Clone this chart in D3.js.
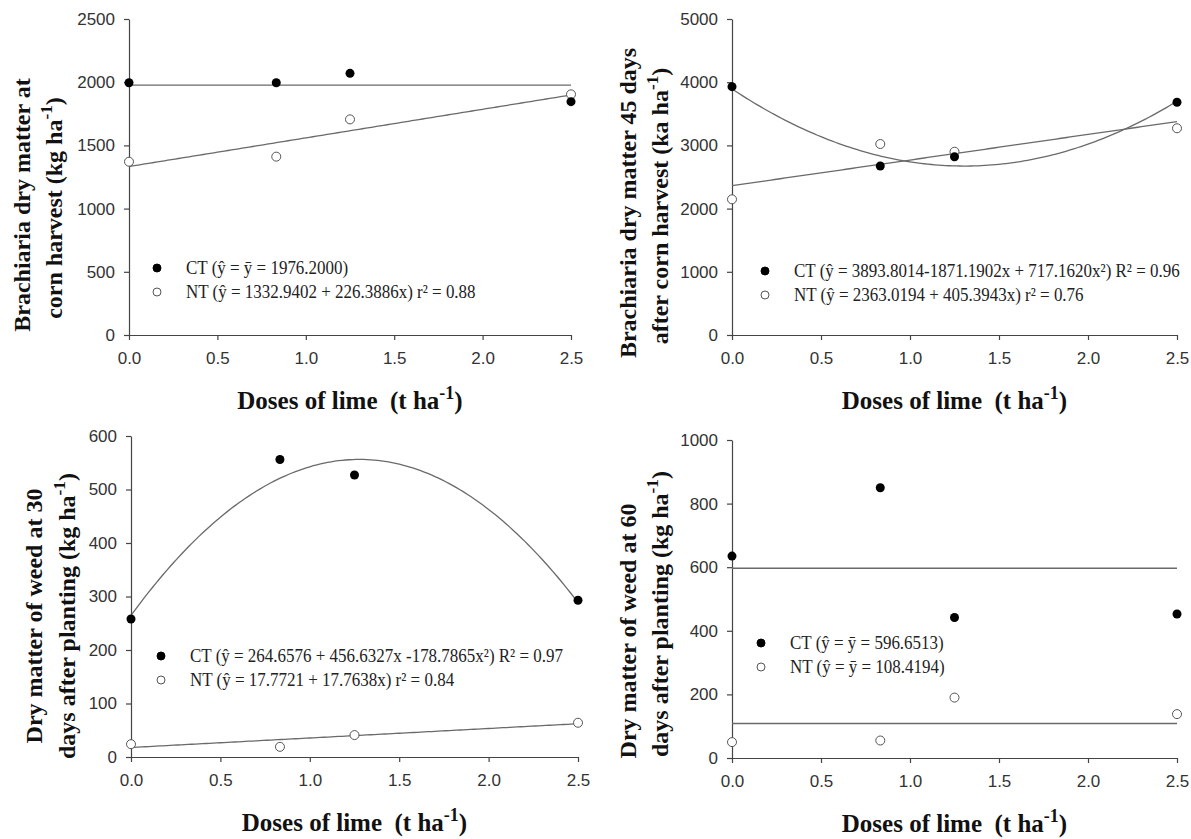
<!DOCTYPE html>
<html>
<head>
<meta charset="utf-8">
<script src="https://cdn.jsdelivr.net/npm/d3@7"></script>
<style>
  body { margin: 0; background: #fff; }
  .tick text { font-family: "Liberation Sans", Arial, sans-serif; font-size: 17px; fill: #333; }
  .domain, .tick line { stroke: #444; stroke-width: 1.2; }
</style>
</head>
<body>
<svg id="fig" width="1191" height="839"></svg>
<script>
// lime doses (t ha-1)
let doses = [0, 0.833, 1.25, 2.5]
let xTicks = [0, 0.5, 1.0, 1.5, 2.0, 2.5]

// brachiaria dry matter at corn harvest
let ctHarvest = [1996, 1996, 2070, 1846]
let ntHarvest = [1371, 1411, 1706, 1904]
// brachiaria dry matter 45 days after corn harvest
let ct45days = [3929, 2674, 2821, 3682]
let nt45days = [2147, 3022, 2900, 3271]
// weed dry matter 30 days after planting
let ctWeed30 = [258, 556, 527, 293]
let ntWeed30 = [24, 19, 41, 64]
// weed dry matter 60 days after planting
let ctWeed60 = [635, 850, 442, 453]
let ntWeed60 = [50, 55, 190, 138]

// regression coefficients  y = a + b*x + c*x^2
let ctHarvestFit = [1976.2, 0, 0]
let ntHarvestFit = [1332.9402, 226.3886, 0]
let ct45Fit = [3893.8014, -1871.1902, 717.1620]
let nt45Fit = [2363.0194, 405.3943, 0]
let ctWeed30Fit = [264.6576, 456.6327, -178.7865]
let ntWeed30Fit = [17.7721, 17.7638, 0]
let ctWeed60Fit = [596.6513, 0, 0]
let ntWeed60Fit = [108.4194, 0, 0]

let legendHarvest = ['CT (ŷ = ȳ = 1976.2000)', 'NT (ŷ = 1332.9402 + 226.3886x) r² = 0.88']
let legend45 = ['CT (ŷ = 3893.8014-1871.1902x + 717.1620x²) R² = 0.96', 'NT (ŷ = 2363.0194 + 405.3943x) r² = 0.76']
let legendWeed30 = ['CT (ŷ = 264.6576 + 456.6327x -178.7865x²) R² = 0.97', 'NT (ŷ = 17.7721 + 17.7638x) r² = 0.84']
let legendWeed60 = ['CT (ŷ = ȳ = 596.6513)', 'NT (ŷ = ȳ = 108.4194)']

let panels = [
  { ct: ctHarvest, nt: ntHarvest, ctFit: ctHarvestFit, ntFit: ntHarvestFit, legend: legendHarvest,
    yMax: 2500, yStep: 500, left: 129, right: 571, top: 19, bottom: 335,
    title: ['Brachiaria dry matter at', 'corn harvest (kg ha'], titleX: [30, 62], titleY: [205, 208],
    legX: 157, legY: 268 },
  { ct: ct45days, nt: nt45days, ctFit: ct45Fit, ntFit: nt45Fit, legend: legend45,
    yMax: 5000, yStep: 1000, left: 732, right: 1177, top: 19, bottom: 335,
    title: ['Brachiaria dry matter 45 days', 'after corn harvest (ka ha'], titleX: [636, 668], titleY: [203, 206],
    legX: 765, legY: 271 },
  { ct: ctWeed30, nt: ntWeed30, ctFit: ctWeed30Fit, ntFit: ntWeed30Fit, legend: legendWeed30,
    yMax: 600, yStep: 100, left: 131, right: 578, top: 436, bottom: 757,
    title: ['Dry matter of weed at 30', 'days after planting (kg ha'], titleX: [42, 75], titleY: [616, 616],
    legX: 161, legY: 656 },
  { ct: ctWeed60, nt: ntWeed60, ctFit: ctWeed60Fit, ntFit: ntWeed60Fit, legend: legendWeed60,
    yMax: 1000, yStep: 200, left: 732, right: 1177, top: 440, bottom: 758,
    title: ['Dry matter of weed at 60', 'days after planting (kg ha'], titleX: [636, 668], titleY: [631, 614],
    legX: 761, legY: 643 }
]

let svg = d3.select('#fig')
let serif = '"Liberation Serif", "Times New Roman", serif'

// adds "-1" superscript and closing bracket
function unit(text, fs) {
  text.append('tspan')
    .attr('font-size', fs * 0.72)
    .attr('dy', -fs * 0.4)
    .text('-1')
  text.append('tspan')
    .attr('dy', fs * 0.4)
    .text(')')
}

function poly(c, x) {
  return c[0] + c[1] * x + c[2] * x * x
}

panels.forEach(function(p) {
  let x = d3.scaleLinear().domain([0, 2.5]).range([p.left, p.right])
  let y = d3.scaleLinear().domain([0, p.yMax]).range([p.bottom, p.top])

  svg.append('g')
    .attr('transform', `translate(0, ${p.bottom})`)
    .call(d3.axisBottom(x).tickValues(xTicks).tickFormat(d3.format('.1f'))
      .tickSize(5).tickSizeOuter(0).tickPadding(12))

  svg.append('g')
    .attr('transform', `translate(${p.left}, 0)`)
    .call(d3.axisLeft(y).tickValues(d3.range(0, p.yMax + 1, p.yStep)).tickFormat(d3.format('d'))
      .tickSize(5).tickSizeOuter(0).tickPadding(9))

  // fitted curves
  let xs = d3.range(0, 2.5001, 0.02)
  let line = d3.line().x(function(d) { return x(d[0]) }).y(function(d) { return y(d[1]) })
  ;[p.ctFit, p.ntFit].forEach(function(c) {
    svg.append('path')
      .attr('d', line(xs.map(function(v) { return [v, poly(c, v)] })))
      .attr('fill', 'none')
      .attr('stroke', '#6a6a6a')
      .attr('stroke-width', 1.3)
  })

  // points
  svg.append('g').selectAll('circle')
    .data(p.nt)
    .enter().append('circle')
    .attr('cx', function(d, i) { return x(doses[i]) })
    .attr('cy', function(d) { return y(d) })
    .attr('r', 4.5)
    .attr('fill', '#fff')
    .attr('stroke', '#555')
    .attr('stroke-width', 1)

  svg.append('g').selectAll('circle')
    .data(p.ct)
    .enter().append('circle')
    .attr('cx', function(d, i) { return x(doses[i]) })
    .attr('cy', function(d) { return y(d) })
    .attr('r', 4.5)
    .attr('fill', '#000')

  // legend
  p.legend.forEach(function(txt, i) {
    let ly = p.legY + i * 24
    svg.append('circle')
      .attr('cx', p.legX).attr('cy', ly).attr('r', 4)
      .attr('fill', i === 0 ? '#000' : '#fff')
      .attr('stroke', i === 0 ? '#000' : '#555')
    svg.append('text')
      .attr('transform', `translate(${p.legX + 29}, ${ly + 6}) scale(1, 1.15)`)
      .attr('font-family', serif).attr('font-size', 17).attr('fill', '#222')
      .text(txt)
  })

  // x title
  let xt = svg.append('text')
    .attr('x', (p.left + p.right) / 2).attr('y', p.bottom + 74)
    .attr('text-anchor', 'middle')
    .attr('font-family', serif).attr('font-size', 25).attr('font-weight', 'bold').attr('fill', '#111')
    .attr('xml:space', 'preserve')
    .text('Doses of lime  (t ha')
  unit(xt, 25)

  // y title, two lines
  p.title.forEach(function(t, i) {
    let yt = svg.append('text')
      .attr('transform', `translate(${p.titleX[i]}, ${p.titleY[i]}) rotate(-90)`)
      .attr('text-anchor', 'middle')
      .attr('font-family', serif).attr('font-size', 24).attr('font-weight', 'bold').attr('fill', '#111')
      .text(t)
    if (i === 1) unit(yt, 24)
  })
})
</script>
</body>
</html>
